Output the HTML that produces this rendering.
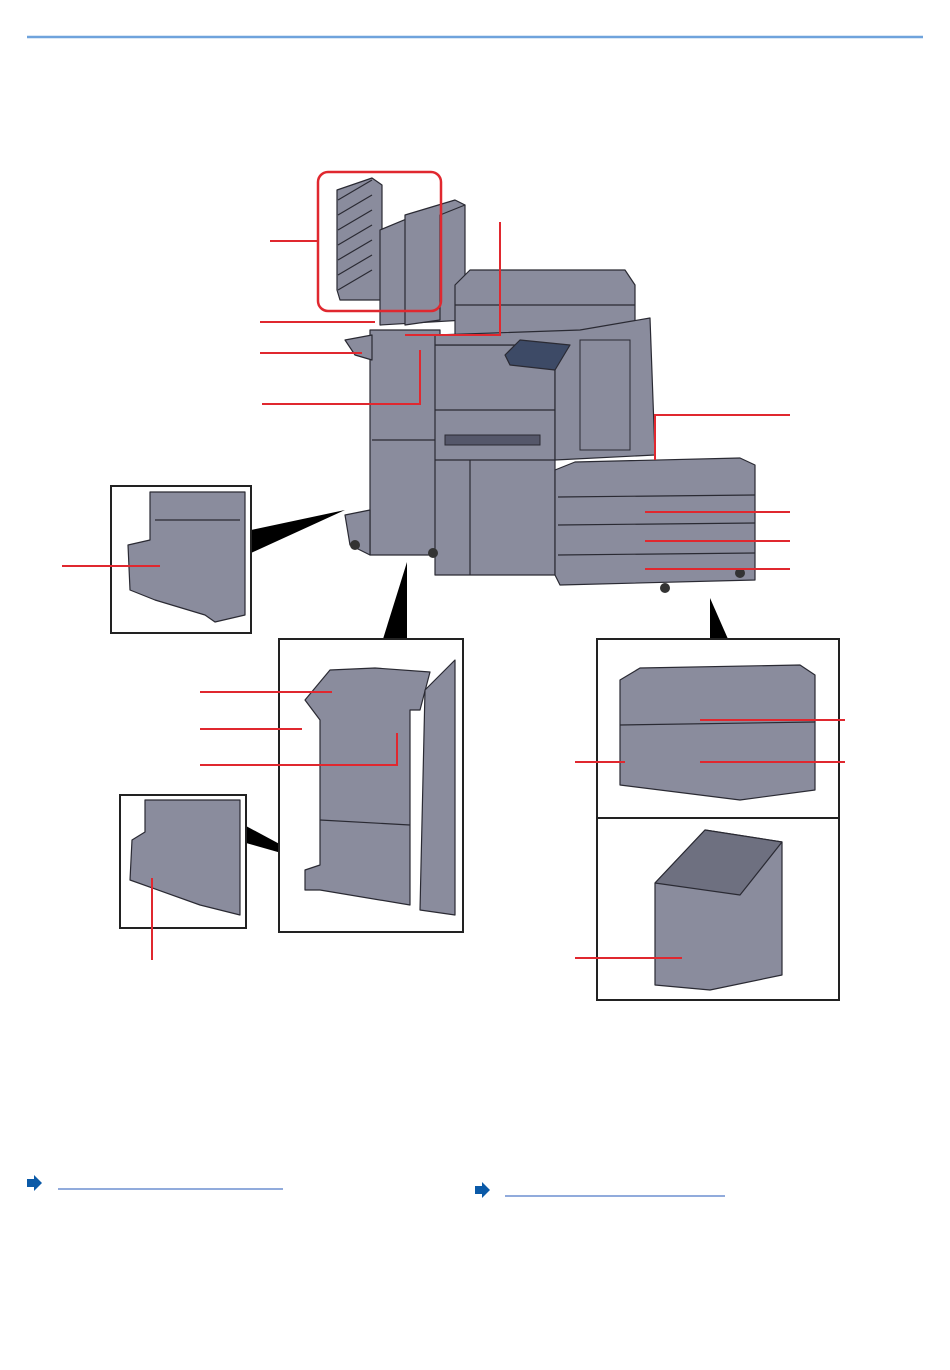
<!DOCTYPE html>
<html><head><style>
html,body{margin:0;padding:0;background:#fff;width:950px;height:1370px;overflow:hidden}
svg{display:block}
</style></head><body>
<svg width="950" height="1370" viewBox="0 0 950 1370" xmlns="http://www.w3.org/2000/svg">
<line x1="27" y1="37" x2="923" y2="37" stroke="#6fa3dc" stroke-width="2.5"/>
<g fill="#8a8c9d" stroke="#2a2a33" stroke-width="1.2" stroke-linejoin="round">
<!-- mailbox trays -->
<polygon points="337,190 372,178 382,185 382,300 340,300 337,290"/>
<polygon points="380,230 440,205 465,205 465,320 380,325"/>
<polygon points="405,215 455,200 465,205 440,215 440,320 405,325"/>
<!-- finisher -->
<polygon points="370,330 440,330 440,555 370,555"/>
<polygon points="345,340 372,335 372,360 355,355"/>
<polygon points="345,515 370,510 370,555 350,545"/>
<!-- main body -->
<polygon points="435,345 555,345 555,575 435,575"/>
<polygon points="455,285 470,270 625,270 635,285 635,335 455,335"/>
<polygon points="435,335 580,330 650,318 655,455 555,460 555,345 435,345"/>
<polygon points="505,355 520,340 570,345 555,370 510,365" fill="#3d4a66"/>
<!-- side trays -->
<polygon points="555,470 575,462 740,458 755,465 755,580 560,585 555,575"/>
<line x1="558" y1="497" x2="755" y2="495"/>
<line x1="558" y1="525" x2="755" y2="523"/>
<line x1="558" y1="555" x2="755" y2="553"/>
</g>
<g stroke="#2a2a33" stroke-width="1.2" fill="none">
<line x1="338" y1="200" x2="372" y2="180"/><line x1="338" y1="215" x2="372" y2="195"/>
<line x1="338" y1="230" x2="372" y2="210"/><line x1="338" y1="245" x2="372" y2="225"/>
<line x1="338" y1="260" x2="372" y2="240"/><line x1="338" y1="275" x2="372" y2="255"/>
<line x1="338" y1="290" x2="372" y2="270"/>
<line x1="372" y1="440" x2="435" y2="440"/>
<line x1="435" y1="460" x2="555" y2="460"/>
<line x1="470" y1="460" x2="470" y2="575"/>
<line x1="435" y1="410" x2="555" y2="410"/>
<line x1="455" y1="305" x2="635" y2="305"/>
</g>
<g fill="#aaacba" stroke="#2a2a33" stroke-width="1">
<rect x="445" y="435" width="95" height="10" fill="#55576a"/>
<rect x="580" y="340" width="50" height="110" fill="#8a8c9d"/>
</g>
<g fill="#333"><circle cx="355" cy="545" r="5"/><circle cx="433" cy="553" r="5"/><circle cx="665" cy="588" r="5"/><circle cx="740" cy="573" r="5"/></g>
<rect x="318" y="172" width="123" height="139" rx="10" fill="none" stroke="#e0282f" stroke-width="2.5"/>
<g fill="#000">
<polygon points="251,530 251,553 345,510"/>
<polygon points="383,639 407,639 407,562"/>
<polygon points="246,826 246,843 313,862"/>
<polygon points="710,639 728,639 710,598"/>
</g>
<g fill="#fff" stroke="#222" stroke-width="2">
<rect x="111" y="486" width="140" height="147"/>
<rect x="279" y="639" width="184" height="293"/>
<rect x="120" y="795" width="126" height="133"/>
<rect x="597" y="639" width="242" height="179"/>
<rect x="597" y="818" width="242" height="182"/>
</g>
<g fill="#8a8c9d" stroke="#2a2a33" stroke-width="1.2" stroke-linejoin="round">
<polygon points="150,492 245,492 245,615 215,622 205,615 155,600 130,590 128,545 150,540"/>
<polygon points="305,700 330,670 375,668 430,672 420,710 410,710 410,905 320,890 305,890 305,870 320,865 320,720"/>
<polygon points="425,690 455,660 455,915 420,910"/>
<polygon points="145,800 240,800 240,915 200,905 130,880 132,840 145,832"/>
<polygon points="620,680 640,668 800,665 815,675 815,790 740,800 620,785"/>
<line x1="620" y1="725" x2="815" y2="722"/>
<polygon points="655,883 705,830 782,842 782,975 710,990 655,985"/>
<polygon points="655,883 705,830 782,842 740,895" fill="#6e7080"/>
</g>
<g stroke="#2a2a33" stroke-width="1.2" fill="none">
<line x1="320" y1="820" x2="410" y2="825"/>
<line x1="155" y1="520" x2="240" y2="520"/>
</g>
<g stroke="#e0282f" stroke-width="2" fill="none">
<polyline points="270,241 318,241"/>
<polyline points="260,322 375,322"/>
<polyline points="260,353 362,353"/>
<polyline points="262,404 420,404 420,350"/>
<polyline points="500,222 500,335 405,335"/>
<polyline points="790,415 655,415 655,460"/>
<polyline points="645,512 790,512"/>
<polyline points="645,541 790,541"/>
<polyline points="645,569 790,569"/>
<polyline points="62,566 160,566"/>
<polyline points="200,692 332,692"/>
<polyline points="200,729 302,729"/>
<polyline points="200,765 397,765 397,733"/>
<polyline points="152,878 152,960"/>
<polyline points="575,762 625,762"/>
<polyline points="700,720 845,720"/>
<polyline points="700,762 845,762"/>
<polyline points="575,958 682,958"/>
</g>
<polygon points="27,1179 34,1179 34,1175 42,1183 34,1191 34,1187 27,1187" fill="#0b5aa8"/>
<line x1="58" y1="1189" x2="283" y2="1189" stroke="#6d8fd0" stroke-width="1.5"/>
<polygon points="475,1186 482,1186 482,1182 490,1190 482,1198 482,1194 475,1194" fill="#0b5aa8"/>
<line x1="505" y1="1196" x2="725" y2="1196" stroke="#6d8fd0" stroke-width="1.5"/>
</svg>
</body></html>
